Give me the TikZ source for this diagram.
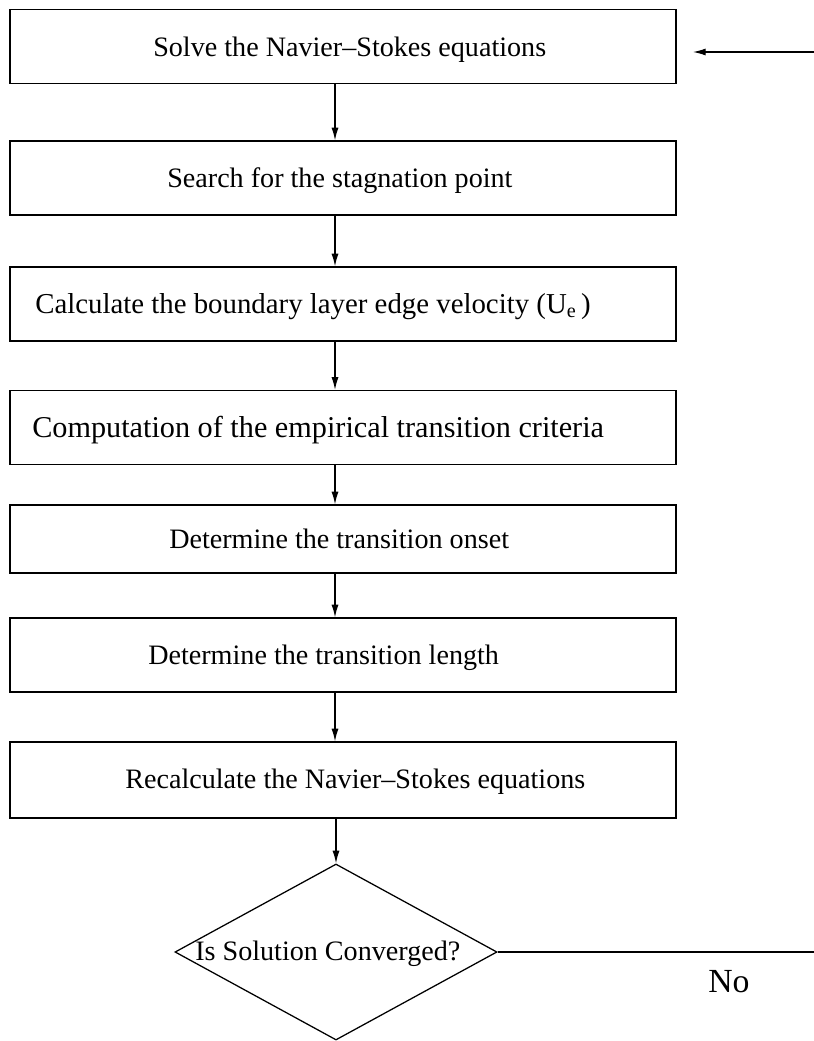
\documentclass[tikz,border=0pt]{standalone}
\usepackage{fontspec}
\setmainfont{Liberation Serif}
\usetikzlibrary{arrows.meta,shapes.geometric}
\tikzset{
	stepbox/.style={draw, line width=0.9pt, minimum width=16.65cm, minimum height=1.85cm, inner sep=0pt},
	steptext/.style={anchor=base west, inner sep=0pt, font=\fontsize{20}{24}\selectfont},
	flow/.style={line width=0.9pt, -{Latex[length=9pt,width=5pt]}},
	decision/.style={draw, diamond, line width=0.9pt, minimum width=8.05cm, minimum height=4.4cm, inner sep=0pt},
}

\begin{document}
\begin{tikzpicture}[x=0.025cm, y=-0.025cm]
		\useasboundingbox (0,0) rectangle (814,1041);
		
		\node[stepbox] (solve) at (343,46.5) {};
		\node[stepbox] (search) at (343,178) {};
		\node[stepbox] (edgevel) at (343,304) {};
		\node[stepbox] (criteria) at (343,427.5) {};
		\node[stepbox, minimum height=1.7cm] (onset) at (343,539) {};
		\node[stepbox] (length) at (343,655) {};
		\node[stepbox, minimum height=1.9cm] (recalc) at (343,780) {};
		\node[decision] (conv) at (336,952) {};
		
		\node[steptext] (solvetext) at (153,56) {Solve the Navier--Stokes equations};
		\node[steptext] (searchtext) at (167,187) {Search for the stagnation point};
		\node[steptext, font=\fontsize{20.5}{24}\selectfont] (edgeveltext) at (35,313) {Calculate the boundary layer edge velocity (U\textsubscript{e}\,)};
		\node[steptext, font=\fontsize{21.5}{25}\selectfont] (criteriatext) at (32,437) {Computation of the empirical transition criteria};
		\node[steptext] (onsettext) at (169,548) {Determine the transition onset};
		\node[steptext] (lengthtext) at (148,664) {Determine the transition length};
		\node[steptext] (recalctext) at (125,788) {Recalculate the Navier--Stokes equations};
		\node[steptext] (convtext) at (195,960) {Is Solution Converged?};
		\node[steptext, anchor=base, font=\fontsize{24}{28}\selectfont] (notext) at (729,992) {No};
		
		\coordinate (feedin) at (814,52);
		\coordinate (feedtip) at (693,52);
		\coordinate (noend) at (814,952);
		
		\draw[flow] (feedin) -- (feedtip);
		\draw[flow] (solve.south -| 335,0) -- (search.north -| 335,0);
		\draw[flow] (search.south -| 335,0) -- (edgevel.north -| 335,0);
		\draw[flow] (edgevel.south -| 335,0) -- (criteria.north -| 335,0);
		\draw[flow] (criteria.south -| 335,0) -- (onset.north -| 335,0);
		\draw[flow] (onset.south -| 335,0) -- (length.north -| 335,0);
		\draw[flow] (length.south -| 335,0) -- (recalc.north -| 335,0);
		\draw[flow] (recalc.south -| conv.north) -- (conv.north);
		\draw[line width=0.9pt] (conv.east) -- (noend);
\end{tikzpicture}
\end{document}
